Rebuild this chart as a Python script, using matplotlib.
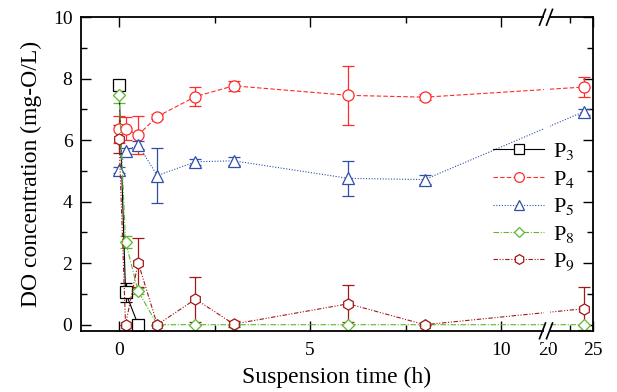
import numpy as np
import matplotlib
matplotlib.use("Agg")
import matplotlib.pyplot as plt
import matplotlib.transforms as mtransforms
from matplotlib.ticker import FixedLocator
from matplotlib.lines import Line2D

plt.rcParams['font.family'] = ['Liberation Serif', 'DejaVu Serif']
plt.rcParams['mathtext.fontset'] = 'stix'

# ---- data ----
t_p3 = [0, 0.17, 0.5]
p3 = [7.8, 1.05, 0.0]
p3_err = [0.15, 0.3, 0.0]

t_all = [0, 0.17, 0.5, 1, 2, 3, 6, 8, 24]
p4 = [6.35, 6.37, 6.17, 6.77, 7.42, 7.77, 7.46, 7.40, 7.73]
p4_err = [0.45, 0.37, 0.62, 0.08, 0.3, 0.17, 0.95, 0.1, 0.32]

p5 = [5.02, 5.66, 5.85, 4.85, 5.30, 5.33, 4.76, 4.72, 6.93]
p5_err = [0.1, 0.1, 0.12, 0.9, 0.1, 0.12, 0.56, 0.15, 0.1]

p8 = [7.48, 2.70, 1.09, 0.0, 0.0, 0.0, 0.0, 0.0, 0.0]
p8_err = [0.28, 0.2, 0.1, 0.0, 0.0, 0.0, 0.0, 0.0, 0.0]

p9 = [6.03, 0.0, 2.02, 0.0, 0.83, 0.02, 0.68, 0.0, 0.52]
p9_err = [0.45, 0.0, 0.8, 0.0, 0.73, 0.1, 0.6, 0.0, 0.7]

labels = ['P$_3$', 'P$_4$', 'P$_5$', 'P$_8$', 'P$_9$']
colors = ['black', '#ff2a2a', '#2f4fa8', '#5cb82e', '#a01818']

x_major = [0, 5, 10, 20, 25]
x_minor = [2.5, 7.5, 22.5]
y_major = [0, 2, 4, 6, 8, 10]

# ---- broken x scale ----
B0 = 11.15   # break start (data)
B1 = 20.0    # break end (data)
G = 0.07     # width of the break gap (transformed units)
S2 = 0.236   # slope after the break


def fwd(x):
    x = np.asarray(x, dtype=float)
    return np.where(x <= B0, x,
                    np.where(x < B1, B0 + (x - B0) * G / (B1 - B0),
                             B0 + G + (x - B1) * S2))


def inv(y):
    y = np.asarray(y, dtype=float)
    return np.where(y <= B0, y,
                    np.where(y < B0 + G, B0 + (y - B0) * (B1 - B0) / G,
                             B1 + (y - B0 - G) / S2))


fig = plt.figure(figsize=(6.17, 3.92), dpi=100)
ax = fig.add_axes([0.131, 0.156, 0.830, 0.800])
ax.set_xscale('function', functions=(fwd, inv))

series = [
    (t_p3, p3, p3_err, '-', 's'),
    (t_all, p4, p4_err, (0, (4, 2)), 'o'),
    (t_all, p5, p5_err, (0, (1, 1.5)), '^'),
    (t_all, p8, p8_err, (0, (5, 1.5, 1, 1.5)), 'D'),
    (t_all, p9, p9_err, (0, (4, 1.5, 1, 1.5, 1, 1.5)), 'h'),
]

handles = []
for (t, v, e, ls, mk), lab, c in zip(series, labels, colors):
    ms = 6.5 if mk == 'D' else 8
    ax.errorbar(t, v, yerr=e, color=c, ecolor=c, linestyle=ls, linewidth=0.8,
                marker=mk, markersize=ms, markerfacecolor='white',
                markeredgecolor=c, markeredgewidth=0.9, capsize=4,
                elinewidth=0.9, capthick=0.9)
    handles.append(Line2D([], [], color=c, linestyle=ls, linewidth=0.8,
                          marker=mk, markersize=ms - 1, markerfacecolor='white',
                          markeredgecolor=c, markeredgewidth=0.9, label=lab))

ax.set_xlim(-1.0, 25)
ax.set_ylim(-0.2, 10)
ax.xaxis.set_major_locator(FixedLocator(x_major))
ax.xaxis.set_minor_locator(FixedLocator(x_minor))
ax.set_xticklabels([str(v) for v in x_major])
ax.set_yticks(y_major)
ax.yaxis.set_minor_locator(FixedLocator([1, 3, 5, 7, 9]))

ax.tick_params(which='both', direction='in', top=True, right=True, labelsize=14)
ax.tick_params(which='major', length=7, width=1.0)
ax.tick_params(which='minor', length=4, width=1.0)
ax.tick_params(axis='x', pad=8)
ax.tick_params(axis='y', pad=6)
for sp in ax.spines.values():
    sp.set_linewidth(1.3)

ax.set_xlabel('Suspension time (h)', fontsize=17, labelpad=6)
ax.set_ylabel('DO concentration (mg-O/L)', fontsize=17, labelpad=8)

# break marks: white band with slashes
trans = mtransforms.blended_transform_factory(ax.transData, ax.transAxes)
xb = 0.5 * (B0 + B1)
xb_disp = ax.transData.transform((xb, 0))[0]
inv_disp = ax.transData.inverted()
def dx(px):
    return inv_disp.transform((xb_disp + px, 0))[0]
ax.fill_between([dx(-3), dx(3)], -0.05, 1.05, transform=trans, color='white',
                zorder=5, clip_on=False, linewidth=0)
for off in (-4, 3):
    for yc in (0.0, 1.0):
        ax.plot([dx(off - 3), dx(off + 3)], [yc - 0.025, yc + 0.025],
                transform=trans, color='black', lw=1.2, clip_on=False, zorder=6)

leg = ax.legend(handles=handles, loc='upper left', bbox_to_anchor=(0.775, 0.655),
                frameon=False, fontsize=16, handlelength=2.3, handletextpad=0.4,
                labelspacing=0.3, borderpad=0.2)

fig.savefig('out.png', dpi=100)
